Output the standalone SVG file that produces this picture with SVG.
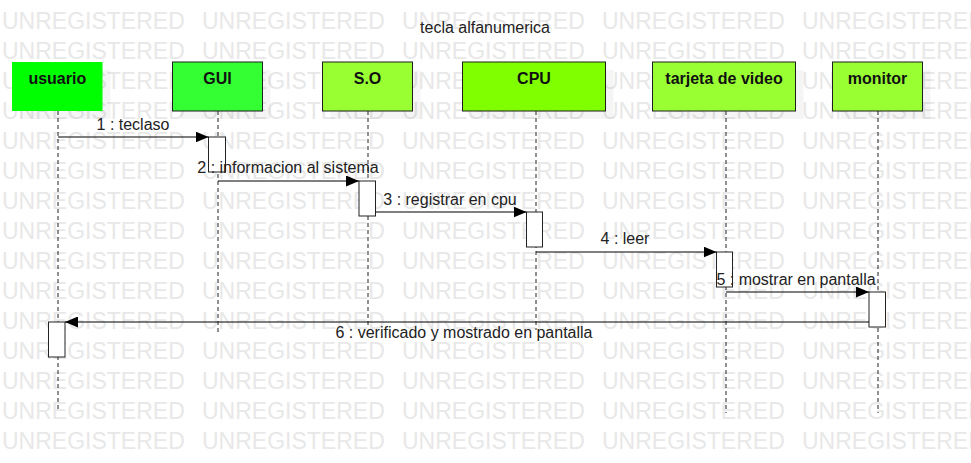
<svg xmlns="http://www.w3.org/2000/svg" xmlns:xlink="http://www.w3.org/1999/xlink" width="971" height="463" viewBox="0 0 971 463">
  <style>
    .wm { font-family: "Liberation Sans", Arial, sans-serif; font-size: 23px; fill: #e8e8e8; }
    .box { stroke: #1e1e1e; stroke-width: 1; }
    .shadow { fill: #000; fill-opacity: 0.04; }
    .name { font-family: "Liberation Sans", Arial, sans-serif; font-size: 16px; font-weight: bold; fill: #111; text-anchor: middle; }
    .life { stroke: #222; stroke-width: 1; stroke-dasharray: 4,3; fill: none; }
    .act { fill: #fff; stroke: #222; stroke-width: 1; }
    .msg { stroke: #000; stroke-width: 1.2; fill: none; marker-end: url(#ah); }
    .lbl { font-family: "Liberation Sans", Arial, sans-serif; font-size: 16px; fill: #222; text-anchor: middle; }
  </style>
  <defs>
    <marker id="ah" markerWidth="13" markerHeight="11" refX="13" refY="5.5" orient="auto" markerUnits="userSpaceOnUse">
      <path d="M0,0 L13,5.5 L0,11 z" fill="#000"/>
    </marker>
    <text id="wmrow" class="wm" y="28.5"><tspan x="2">UNREGISTERED</tspan><tspan x="202">UNREGISTERED</tspan><tspan x="402">UNREGISTERED</tspan><tspan x="602">UNREGISTERED</tspan><tspan x="802">UNREGISTERED</tspan></text>
  </defs>
  <rect width="971" height="463" fill="#fff"/>
  <g id="watermark">
    <use xlink:href="#wmrow" y="0"/>
    <use xlink:href="#wmrow" y="30"/>
    <use xlink:href="#wmrow" y="60"/>
    <use xlink:href="#wmrow" y="90"/>
    <use xlink:href="#wmrow" y="120"/>
    <use xlink:href="#wmrow" y="150"/>
    <use xlink:href="#wmrow" y="180"/>
    <use xlink:href="#wmrow" y="210"/>
    <use xlink:href="#wmrow" y="240"/>
    <use xlink:href="#wmrow" y="270"/>
    <use xlink:href="#wmrow" y="300"/>
    <use xlink:href="#wmrow" y="330"/>
    <use xlink:href="#wmrow" y="360"/>
    <use xlink:href="#wmrow" y="390"/>
    <use xlink:href="#wmrow" y="420"/>
  </g>
  <text id="title" x="485" y="33" class="lbl">tecla alfanumerica</text>

  <g id="usuario">
    <rect class="shadow" x="20" y="70" width="90.5" height="49"/>
    <rect x="12" y="62" width="90.5" height="49" fill="#00ff00"/>
    <text class="name" x="57.3" y="84">usuario</text>
    <line class="life" x1="58" y1="111" x2="58" y2="409"/>
    <rect class="act" x="48.5" y="322" width="16.5" height="35"/>
  </g>
  <g id="gui">
    <rect class="shadow" x="180.5" y="70" width="90" height="49"/>
    <rect class="box" x="172.5" y="62" width="90" height="49" fill="#33ff33"/>
    <text class="name" x="217.5" y="84">GUI</text>
    <line class="life" x1="218" y1="111" x2="218" y2="332"/>
    <rect class="act" x="208.5" y="137" width="17" height="35"/>
  </g>
  <g id="so">
    <rect class="shadow" x="330.5" y="70" width="90" height="49"/>
    <rect class="box" x="322.5" y="62" width="90" height="49" fill="#99ff33"/>
    <text class="name" x="367.5" y="84">S.O</text>
    <line class="life" x1="368" y1="111" x2="368" y2="327"/>
    <rect class="act" x="359" y="181" width="16.5" height="35"/>
  </g>
  <g id="cpu">
    <rect class="shadow" x="470.5" y="70" width="143" height="49"/>
    <rect class="box" x="462.5" y="62" width="143" height="49" fill="#80ff00"/>
    <text class="name" x="534" y="84">CPU</text>
    <line class="life" x1="536" y1="111" x2="536" y2="330"/>
    <rect class="act" x="526.5" y="212" width="16" height="35"/>
  </g>
  <g id="tarjeta">
    <rect class="shadow" x="660.5" y="70" width="143" height="49"/>
    <rect class="box" x="652.5" y="62" width="143" height="49" fill="#99ff33"/>
    <text class="name" x="724" y="84">tarjeta de video</text>
    <line class="life" x1="726" y1="111" x2="726" y2="413"/>
    <rect class="act" x="716.5" y="252" width="16" height="35"/>
  </g>
  <g id="monitor">
    <rect class="shadow" x="840.5" y="70" width="90" height="49"/>
    <rect class="box" x="832.5" y="62" width="90" height="49" fill="#99ff33"/>
    <text class="name" x="877.5" y="84">monitor</text>
    <line class="life" x1="878" y1="111" x2="878" y2="413"/>
    <rect class="act" x="869" y="292" width="16.5" height="35"/>
  </g>

  <g id="connectors">
    <line class="msg" x1="58" y1="137" x2="208.5" y2="137"/>
    <text class="lbl" x="133" y="130">1 : teclaso</text>
    <line class="msg" x1="218" y1="181" x2="359" y2="181"/>
    <text class="lbl" x="288" y="173">2 : informacion al sistema</text>
    <line class="msg" x1="375.5" y1="212" x2="526.5" y2="212"/>
    <text class="lbl" x="450" y="205">3 : registrar en cpu</text>
    <line class="msg" x1="536" y1="252" x2="716.5" y2="252"/>
    <text class="lbl" x="625" y="244">4 : leer</text>
    <line class="msg" x1="726" y1="292" x2="869" y2="292"/>
    <text class="lbl" x="796" y="285">5 : mostrar en pantalla</text>
    <line class="msg" x1="869" y1="322" x2="65" y2="322"/>
    <text class="lbl" x="464" y="338">6 : verificado y mostrado en pantalla</text>
  </g>
</svg>
